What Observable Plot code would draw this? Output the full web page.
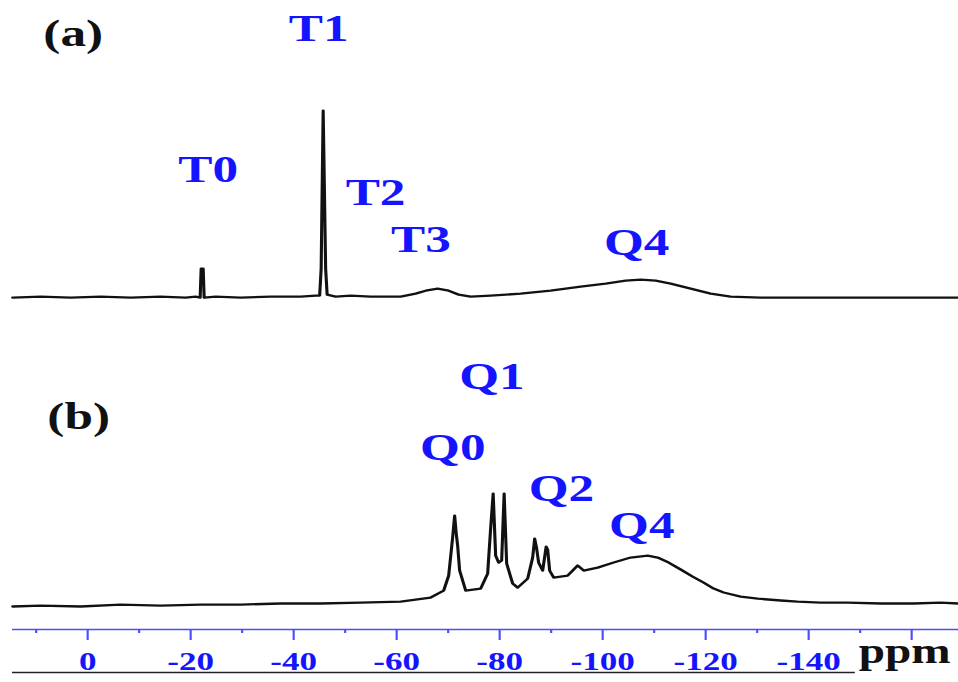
<!DOCTYPE html>
<html>
<head>
<meta charset="utf-8">
<script src="https://cdn.jsdelivr.net/npm/d3@7"></script>
<script src="https://cdn.jsdelivr.net/npm/@observablehq/plot@0.6"></script>
<style>
  html, body { margin: 0; padding: 0; background: #ffffff; }
  #chart svg { display: block; }
</style>
</head>
<body>
<div id="chart"></div>
<script>
// ---- Data ----
// Spectrum (a): chemical shift (ppm) and intensity (a.u., T1 = 100)
const ppmA = [14.56, 9.13, 3.30, -2.52, -8.35, -14.17, -19.03, -20.97, -21.84, -22.04, -22.43, -22.62, -24.85, -29.71, -35.53, -41.36, -44.27, -45.05, -45.34, -45.73, -46.21, -46.50, -48.16, -51.07, -54.95, -60.78, -63.69, -65.63, -67.96, -70.10, -72.04, -74.37, -78.25, -84.08, -89.90, -95.73, -100.58, -104.47, -107.38, -110.29, -113.20, -117.09, -120.97, -124.85, -130.68, -138.45, -148.16, -157.86, -169.13];
const intA = [0, 0.5, 0, 0.5, 0, 0.5, 0, 0.5, 0, 15.5, 15.5, 0, 0.5, 0, 0.5, 0.5, 1.1, 1.1, 15.5, 100, 15.5, 1.6, 0.5, 1.1, 0.5, 0.5, 2.1, 3.7, 4.8, 3.7, 1.6, 0.5, 1.1, 2.1, 3.7, 5.9, 7.5, 9.1, 9.6, 9.1, 7.5, 4.8, 2.1, 0.5, 0, 0, 0, 0, 0];

// Spectrum (b)
const ppmB = [14.56, 9.13, 1.36, -6.41, -14.17, -21.94, -29.71, -37.48, -45.24, -53.01, -60.78, -66.60, -69.13, -70.10, -70.87, -71.26, -71.55, -71.84, -72.23, -73.40, -76.31, -77.67, -78.25, -78.74, -79.22, -79.81, -80.39, -80.87, -81.36, -82.52, -83.50, -85.44, -86.41, -86.80, -87.18, -87.57, -88.35, -89.03, -89.32, -89.71, -90.49, -93.20, -95.15, -96.31, -99.03, -102.14, -105.44, -108.74, -110.68, -112.82, -115.15, -117.48, -119.61, -121.55, -123.50, -126.80, -130.10, -134.56, -137.86, -142.33, -147.57, -153.98, -160.39, -165.63, -169.13];
const intB = [-0.5, 0, -0.5, 0.5, 0, 0.5, 0.5, 1.1, 1.1, 1.6, 2.1, 4.3, 8.0, 16.0, 36.4, 48.1, 39.0, 32.1, 18.7, 8.0, 9.1, 17.1, 41.2, 59.9, 26.7, 23.0, 24.1, 59.9, 22.5, 11.8, 9.6, 14.4, 25.7, 35.8, 30.5, 23.0, 18.7, 31.5, 29.9, 18.7, 15.0, 16.0, 21.4, 18.7, 20.3, 23.0, 25.7, 26.7, 25.7, 23.0, 19.3, 15.5, 12.3, 9.1, 7.0, 4.8, 3.7, 2.7, 2.1, 1.6, 1.6, 1.1, 1.1, 1.6, 1.1];

// Peak annotations (text, ppm, height above the panel's baseline in a.u.)
const labelsA = ["(a)", "T0", "T1", "T2", "T3", "Q4"];
const labelPpmA = [2.8, -23.4, -44.85, -55.9, -64.7, -106.6];
const labelHA = [141.2, 68.5, 143.6, 55.9, 31.1, 29.5];

const labelsB = ["(b)", "Q0", "Q1", "Q2", "Q4"];
const labelPpmB = [1.75, -70.9, -78.5, -92.0, -107.6];
const labelHB = [101.1, 84.5, 122.5, 62.6, 42.8];

// Axis ticks
const majorTicks = [0, -20, -40, -60, -80, -100, -120, -140, -160];
const tickLabels = [0, -20, -40, -60, -80, -100, -120, -140];
const minorTicks = [10, -10, -30, -50, -70, -90, -110, -130, -150];

// ---- Layout constants ----
const offsetA = 177.5;   // vertical stacking offset of spectrum (a)
const offsetB = 12.8;    // vertical stacking offset of spectrum (b)
const xDomain = [16.89, -169.13];
const underlineEnd = -149.1;
const W = 710, H = 682, STRETCH_W = 958;
const blue = "#1414ff";
const axisBlue = "#4d4dff";
const serif = "'Liberation Serif', 'Times New Roman', serif";

const idxA = d3.range(ppmA.length);
const idxB = d3.range(ppmB.length);
const specStart = d3.max(ppmA), specEnd = d3.min(ppmA);

const labA = labelsA.map((t, i) => ({t, x: labelPpmA[i], y: offsetA + labelHA[i]}));
const labB = labelsB.map((t, i) => ({t, x: labelPpmB[i], y: offsetB + labelHB[i]}));

const svg = Plot.plot({
  width: W,
  height: H,
  marginTop: 0,
  marginBottom: 53,
  marginLeft: 0,
  marginRight: 0,
  x: {domain: xDomain, label: null},
  y: {domain: [0, 336.4], axis: null},
  style: {fontFamily: serif, background: "white", overflow: "visible"},
  marks: [
    // axis line
    Plot.ruleY([0], {x1: specStart, x2: specEnd, stroke: axisBlue, strokeWidth: 1.6}),
    // black underline below tick labels
    Plot.ruleY([0], {x1: specStart, x2: underlineEnd, dy: 43, stroke: "#222", strokeWidth: 1.3}),
    Plot.axisX({ticks: majorTicks, tickSize: 11, tickPadding: 11, stroke: axisBlue, strokeWidth: 1.6,
      fill: blue, fontSize: 26, fontWeight: "bold", label: null,
      tickFormat: d => tickLabels.includes(d) ? String(d) : ""}),
    Plot.axisX({ticks: minorTicks, tickSize: 4, text: null, label: null, stroke: axisBlue, strokeWidth: 1.6}),
    // spectra
    Plot.line(idxA, {x: i => ppmA[i], y: i => offsetA + intA[i], stroke: "#111", strokeWidth: 2.3}),
    Plot.line(idxB, {x: i => ppmB[i], y: i => offsetB + intB[i], stroke: "#111", strokeWidth: 2.3}),
    // labels
    Plot.text(labA, {x: "x", y: "y", text: "t", fontSize: 38, fontWeight: "bold",
      fill: d => d.t.startsWith("(") ? "#111" : blue}),
    Plot.text(labB, {x: "x", y: "y", text: "t", fontSize: 38, fontWeight: "bold",
      fill: d => d.t.startsWith("(") ? "#111" : blue}),
    Plot.text(["ppm"], {frameAnchor: "bottom-right", textAnchor: "end", dx: -6, dy: 33.5,
      fontSize: 35, fontWeight: "bold", fill: "#111"})
  ]
});

// horizontal stretch of the whole drawing, as in the reference
svg.setAttribute("width", STRETCH_W);
svg.setAttribute("height", H);
svg.setAttribute("viewBox", `0 0 ${W} ${H}`);
svg.setAttribute("preserveAspectRatio", "none");
svg.style.maxWidth = "none";
svg.style.width = STRETCH_W + "px";
svg.style.height = H + "px";
document.getElementById("chart").appendChild(svg);
</script>
</body>
</html>
